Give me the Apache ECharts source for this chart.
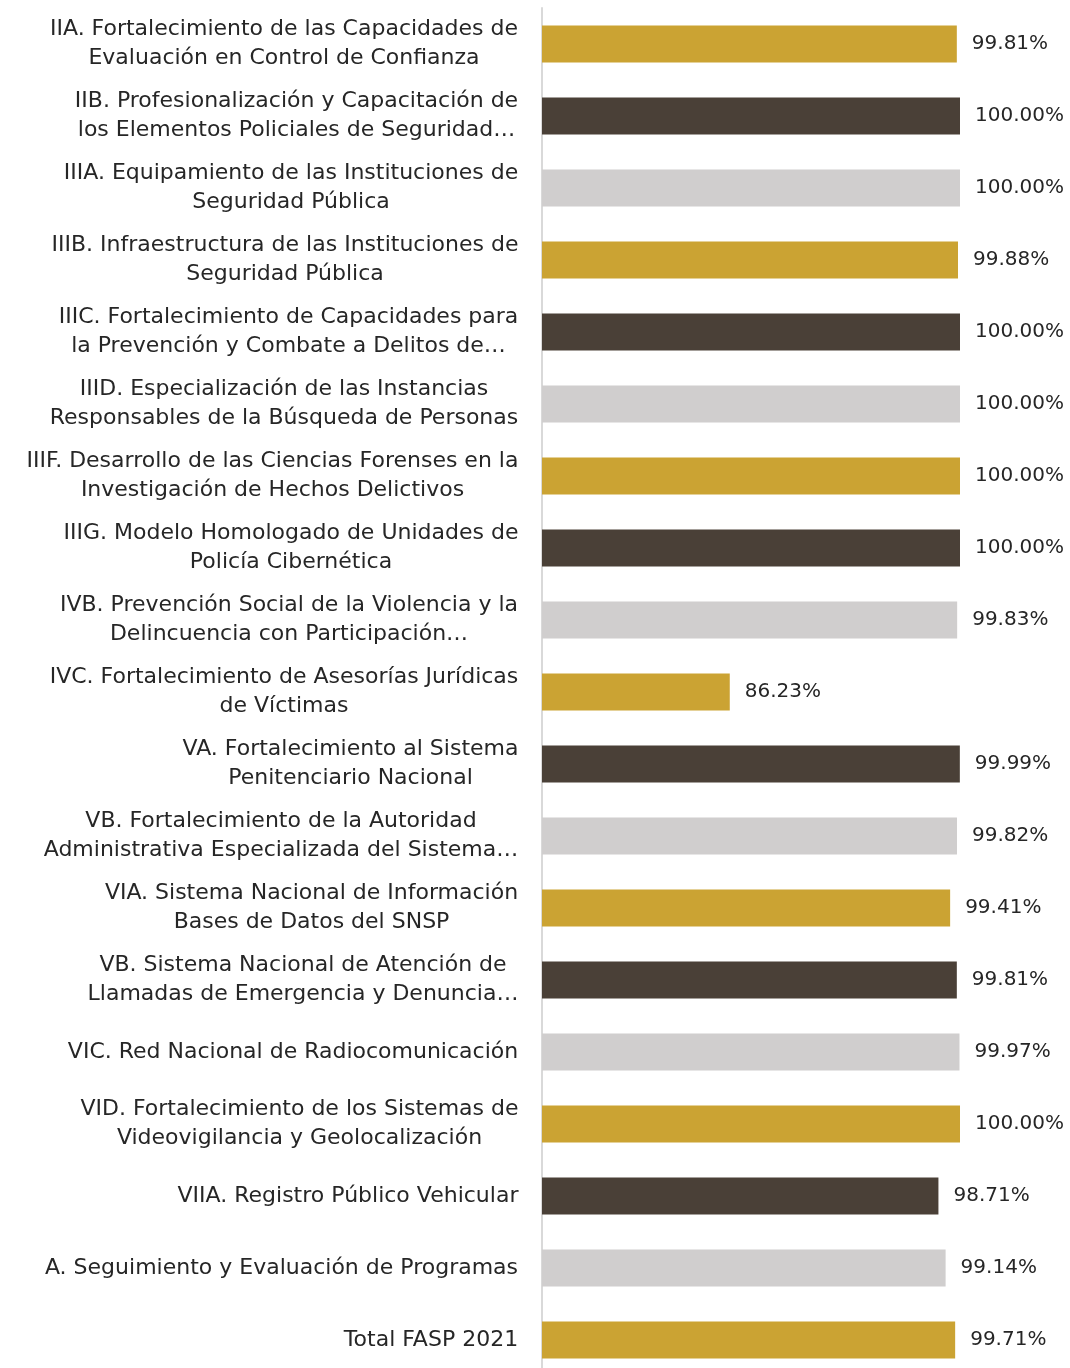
<!DOCTYPE html>
<html>
<head>
<meta charset="utf-8">
<script src="https://cdn.jsdelivr.net/npm/echarts@6/dist/echarts.min.js"></script>
<style>
  html, body { margin: 0; padding: 0; background: #fff; }
  #chart { width: 1070px; height: 1368px; }
</style>
</head>
<body>
<div id="chart"></div>
<script>
// categorias (de arriba hacia abajo)
const categories = [
  "IIA. Fortalecimiento de las Capacidades de\nEvaluación en Control de Confianza",
  "IIB. Profesionalización y Capacitación de\nlos Elementos Policiales de Seguridad…",
  "IIIA. Equipamiento de las Instituciones de\nSeguridad Pública",
  "IIIB. Infraestructura de las Instituciones de\nSeguridad Pública",
  "IIIC. Fortalecimiento de Capacidades para\nla Prevención y Combate a Delitos de…",
  "IIID. Especialización de las Instancias\nResponsables de la Búsqueda de Personas",
  "IIIF. Desarrollo de las Ciencias Forenses en la\nInvestigación de Hechos Delictivos",
  "IIIG. Modelo Homologado de Unidades de\nPolicía Cibernética",
  "IVB. Prevención Social de la Violencia y la\nDelincuencia con Participación…",
  "IVC. Fortalecimiento de Asesorías Jurídicas\nde Víctimas",
  "VA. Fortalecimiento al Sistema\nPenitenciario Nacional",
  "VB. Fortalecimiento de la Autoridad\nAdministrativa Especializada del Sistema…",
  "VIA. Sistema Nacional de Información\nBases de Datos del SNSP",
  "VB. Sistema Nacional de Atención de\nLlamadas de Emergencia y Denuncia…",
  "VIC. Red Nacional de Radiocomunicación",
  "VID. Fortalecimiento de los Sistemas de\nVideovigilancia y Geolocalización",
  "VIIA. Registro Público Vehicular",
  "A. Seguimiento y Evaluación de Programas",
  "Total FASP 2021"
];

// porcentaje ejercido
const values = [
  99.81, 100.00, 100.00, 99.88, 100.00, 100.00, 100.00, 100.00, 99.83, 86.23,
  99.99, 99.82, 99.41, 99.81, 99.97, 100.00, 98.71, 99.14, 99.71
];

// colores que se repiten
const palette = ["#CBA333", "#4A4037", "#D0CECE"];

const labelFont = "22px 'DejaVu Sans'";

// cada etiqueta: bloque alineado a la derecha, lineas centradas dentro del bloque
const ctx = document.createElement("canvas").getContext("2d");
ctx.font = labelFont;
const rich = {};
categories.forEach((c, i) => {
  const w = Math.max(...c.split("\n").map((l) => ctx.measureText(l).width));
  rich["r" + i] = { width: Math.ceil(w) + 1, align: "center", lineHeight: 29 };
});

const chart = echarts.init(document.getElementById("chart"));
chart.setOption({
  animation: false,
  grid: {
    left: 542,
    top: 8,
    width: 418,
    height: 1368,
    outerBoundsMode: "none"
  },
  xAxis: {
    type: "value",
    min: 75,
    max: 100,
    show: false
  },
  yAxis: {
    type: "category",
    inverse: true,
    data: categories,
    axisLine: { show: true, lineStyle: { color: "#D9D9D9", width: 2 } },
    axisTick: { show: false },
    axisLabel: {
      margin: 23,
      color: "#262626",
      fontFamily: "DejaVu Sans",
      fontSize: 22,
      lineHeight: 29,
      align: "right",
      interval: 0,
      rich: rich,
      formatter: (v, idx) =>
        v.split("\n").map((l) => "{r" + idx + "|" + l + "}").join("\n")
    }
  },
  series: [
    {
      type: "bar",
      barWidth: 37,
      data: values.map((v, i) => ({
        value: v,
        itemStyle: { color: palette[i % 3] }
      })),
      label: {
        show: true,
        position: "right",
        distance: 15,
        color: "#262626",
        fontFamily: "DejaVu Sans",
        fontSize: 20,
        formatter: (p) => p.value.toFixed(2) + "%"
      }
    }
  ]
});
</script>
</body>
</html>
